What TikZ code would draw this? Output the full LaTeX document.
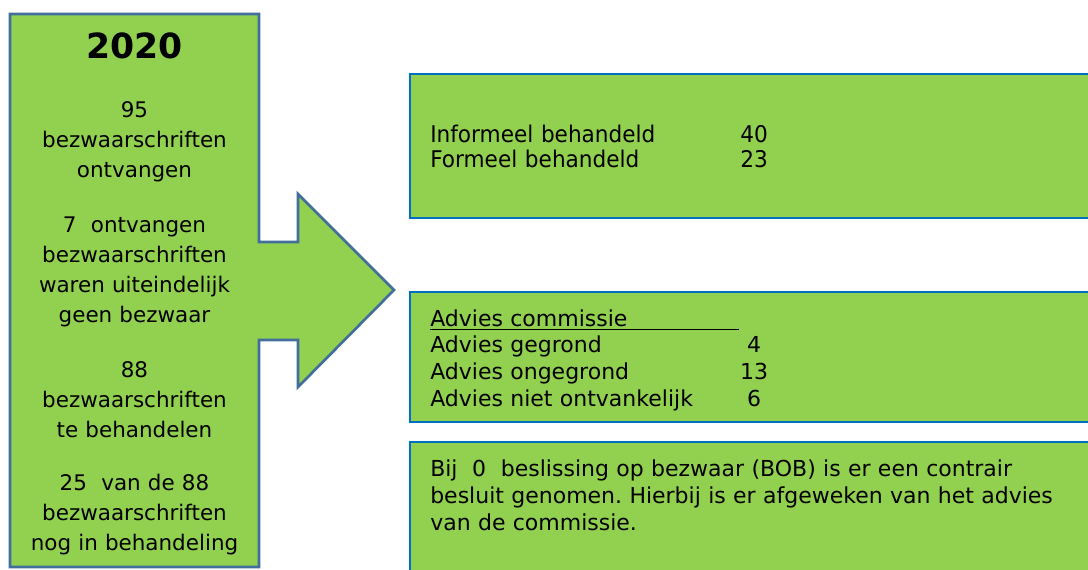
\documentclass[tikz,border=0pt]{standalone}
\usepackage{fontspec}
\setmainfont{DejaVu Sans}
\newfontfamily\narrowfont[FakeStretch=0.94]{DejaVu Sans}
\frenchspacing
\definecolor{boxgreen}{RGB}{146,208,80}
\definecolor{arrowblue}{RGB}{65,110,155}
\definecolor{boxblue}{RGB}{0,112,192}
\tikzset{
  lefttext/.style={inner sep=0pt, anchor=base, text width=240, align=center,
    font=\fontsize{16.1pt}{22.5pt}\selectfont},
  boxtext/.style={inner sep=0pt, anchor=base west, text width=330, align=left,
    font=\fontsize{16.5pt}{20.3pt}\selectfont},
  numtext/.style={inner sep=0pt, anchor=base, text width=40, align=center,
    font=\fontsize{16.5pt}{20.5pt}\selectfont}
}
\begin{document}
\begin{tikzpicture}[x=0.75pt,y=0.75pt,yscale=-1]
\clip (0,0) rectangle (1088,569);

%Shape: Right Arrow Callout
\draw [color=arrowblue, fill=boxgreen, line width=2] (10,14) -- (259,14) -- (259,242) -- (298,242) -- (298,194) -- (394,290) -- (298,387) -- (298,340) -- (259,340) -- (259,567) -- (10,567) -- cycle ;
%Shape: Rectangle
\draw [color=boxblue, fill=boxgreen, line width=2.2] (410,74) rectangle (1100,218) ;
%Shape: Rectangle
\draw [color=boxblue, fill=boxgreen, line width=2.2] (410,292) rectangle (1100,422) ;
%Shape: Rectangle
\draw [color=boxblue, fill=boxgreen, line width=2.2] (410,442) rectangle (1100,580) ;

% left column
\node [inner sep=0pt, anchor=base, font=\fontsize{26pt}{30pt}\selectfont\bfseries] (year) at (134.5,58) {2020};
\node [lefttext] (received) at (134.5,117) {95\\bezwaarschriften\\ontvangen};
\node [lefttext] (noobjection) at (134.5,232) {7\ \ ontvangen\\bezwaarschriften\\waren uiteindelijk\\geen bezwaar};
\node [lefttext] (tohandle) at (134.5,377) {88\\bezwaarschriften\\te behandelen};
\node [lefttext] (pending) at (134.5,490) {25\ \ van de 88\\bezwaarschriften\\nog in behandeling};

% first box
\node [boxtext, font=\fontsize{17.25pt}{18.9pt}\selectfont\narrowfont] (handled) at (430,142) {Informeel behandeld\\Formeel behandeld};
\node [inner sep=0pt, anchor=base west, text width=40, align=left, font=\fontsize{17.25pt}{18.9pt}\selectfont\narrowfont] (handlednum) at (740,142) {40\\23};

% second box
\node [boxtext] (advhead) at (430,326) {Advies commissie};
\draw [line width=1.1] ([yshift=2.6pt]advhead.base west) -- ([yshift=2.6pt]advhead.base west -| 739,0) ;
\node [boxtext] (advice) at (430,352) {Advies gegrond\\Advies ongegrond\\Advies niet ontvankelijk};
\node [numtext] (advicenum) at (754,352) {4\\13\\6};

% third box
\node [boxtext, text width=700] (bob) at (430,476) {Bij\ \ 0\ \ beslissing op bezwaar (BOB) is er een contrair\\besluit genomen. Hierbij is er afgeweken van het advies\\van de commissie.};

\end{tikzpicture}
\end{document}
